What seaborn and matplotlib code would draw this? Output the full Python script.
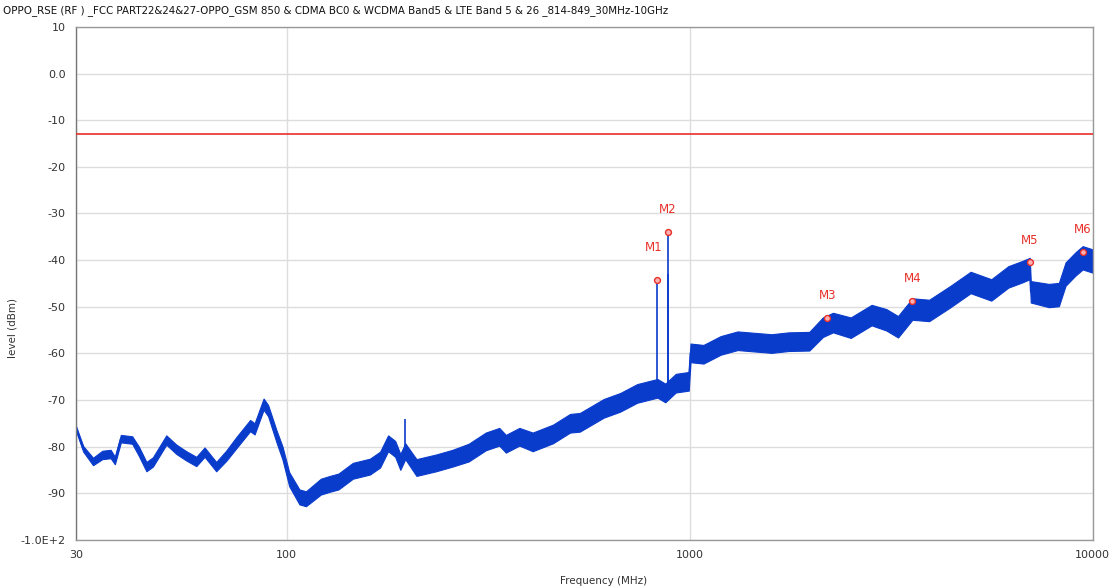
import numpy as np
import pandas as pd
import seaborn as sns
import matplotlib
matplotlib.use("Agg")
import matplotlib.pyplot as plt

# trace envelope (MHz, dBm)
freq_mhz = [30, 31.3, 33.1, 34.9, 36.6, 37.5, 38.8, 41.4, 43.0, 44.9, 46.6, 50.3, 53.3, 56.4,
            59.7, 62.6, 66.9, 70.8, 75.0, 81.2, 83.3, 87.7, 90.0, 94.4, 97.7, 101.5, 107.6,
            111.7, 121.6, 128, 134.5, 146, 161, 170.6, 178.6, 186, 191.5, 197, 210, 235, 258,
            283, 312, 337, 350, 378, 408, 458, 505, 534, 612, 673, 741, 832, 870, 924, 995,
            1005, 1082, 1194, 1315, 1449, 1597, 1760, 1981, 2140, 2268, 2510, 2828, 3075, 3289,
            3569, 3928, 4422, 4978, 5603, 6176, 6680, 6980, 7020, 7781, 8241, 8564, 9068, 9443,
            10000]
level_mid = [-76.0, -80.5, -83.2, -81.8, -81.6, -83.0, -78.3, -78.6, -81.0, -84.3, -83.3, -78.6,
             -80.6, -82.0, -83.2, -81.2, -84.3, -82.0, -79.2, -75.5, -76.2, -70.9, -72.3, -77.8,
             -81.4, -87.0, -90.8, -91.2, -88.6, -88.0, -87.5, -85.2, -84.3, -82.8, -79.3, -80.5,
             -83.3, -81.0, -84.5, -83.5, -82.5, -81.3, -78.9, -77.9, -79.4, -77.9, -79.0, -77.3,
             -75.0, -74.8, -71.8, -70.5, -68.6, -67.5, -68.5, -66.4, -66.0, -59.9, -60.2, -58.3,
             -57.3, -57.6, -57.9, -57.5, -57.4, -54.4, -53.4, -54.5, -51.8, -52.8, -54.3, -50.5,
             -50.8, -47.9, -44.8, -46.4, -43.6, -42.5, -41.8, -46.8, -47.6, -47.4, -43.0, -40.8,
             -39.5, -40.2]
level_spread = [0.5, 0.6, 0.8, 0.9, 0.9, 0.8, 0.8, 0.8, 1.0, 1.0, 1.0, 1.0, 1.0, 1.0, 1.0, 1.0,
                1.0, 1.1, 1.2, 1.2, 1.2, 1.2, 1.2, 1.3, 1.4, 1.5, 1.6, 1.6, 1.7, 1.7, 1.7, 1.7,
                1.7, 1.7, 1.7, 1.7, 1.7, 1.7, 1.8, 1.8, 1.8, 1.9, 1.9, 1.9, 1.9, 1.9, 2.0, 2.0,
                2.0, 2.0, 2.0, 2.0, 2.0, 2.0, 2.0, 2.0, 2.0, 2.0, 2.0, 2.0, 2.0, 2.0, 2.0, 2.0,
                2.0, 2.1, 2.1, 2.2, 2.2, 2.3, 2.3, 2.3, 2.3, 2.3, 2.3, 2.3, 2.3, 2.3, 2.3, 2.3,
                2.5, 2.5, 2.5, 2.5, 2.5, 2.5]

# narrow spurs sticking out of the trace
spur_freq = [197, 829.6, 881.8, 883.5]
spur_level = [-74.0, -44.2, -34.0, -43.0]

# peak markers
marker_names = ["M1", "M2", "M3", "M4", "M5", "M6"]
marker_freq = [829.6, 881.8, 2194, 3569, 6988, 9443]
marker_level = [-44.2, -34.0, -52.4, -48.8, -40.5, -38.2]

limit_dbm = -13

y_ticks = [10, 0, -10, -20, -30, -40, -50, -60, -70, -80, -90, -100]
y_tick_labels = ["10", "0.0", "-10", "-20", "-30", "-40", "-50", "-60", "-70", "-80", "-90", "-1.0E+2"]
x_ticks = [30, 100, 1000, 10000]
x_tick_labels = ["30", "100", "1000", "10000"]

title = ("OPPO_RSE (RF ) _FCC PART22&24&27-OPPO_GSM 850 & CDMA BC0 & WCDMA Band5 & "
         "LTE Band 5 & 26 _814-849_30MHz-10GHz")

sns.set_style("white")
plt.rcParams['font.family'] = ['DejaVu Sans']

BLUE = '#0a3ccc'
RED = '#e8302a'

df = pd.DataFrame({'freq': freq_mhz, 'mid': level_mid, 'spread': level_spread})
df['low'] = df['mid'] - df['spread']
df['high'] = df['mid'] + df['spread']

fig = plt.figure(figsize=(11.15, 5.88), dpi=100)
ax = fig.add_axes([0.068, 0.082, 0.912, 0.872])

ax.fill_between(df['freq'], df['low'], df['high'], color=BLUE, linewidth=0.8, edgecolor=BLUE)
sns.lineplot(data=df, x='freq', y='mid', ax=ax, color=BLUE, linewidth=1.2)

spur_base = np.interp(np.log10(spur_freq), np.log10(df['freq']), df['mid'])
ax.vlines(spur_freq, spur_base, spur_level, color=BLUE, linewidth=1.2)

ax.axhline(limit_dbm, color=RED, linewidth=1.2, zorder=3)

sns.scatterplot(x=marker_freq, y=marker_level, ax=ax, marker='o', s=18,
                facecolor='#ffb0b0', edgecolor=RED, linewidth=1.0, zorder=5)
for name, fx, fy in zip(marker_names, marker_freq, marker_level):
    dx, dy = (-2, 23) if name == "M1" else (0, 16)
    ax.annotate(name, (fx, fy), xytext=(dx, dy), textcoords='offset points',
                ha='center', va='center', color=RED, fontsize=8.5)

ax.set_xscale('log')
ax.set_xlim(30, 10000)
ax.set_ylim(-100, 10)
ax.set_xticks(x_ticks)
ax.set_xticklabels(x_tick_labels)
ax.xaxis.set_minor_locator(matplotlib.ticker.NullLocator())
ax.set_yticks(y_ticks)
ax.set_yticklabels(y_tick_labels)
ax.tick_params(axis='both', labelsize=8, colors='#555555', labelcolor='#333333',
               length=4, width=1, direction='out')
ax.grid(True, color='#dddddd', linewidth=1)
for side in ['left', 'bottom', 'right', 'top']:
    ax.spines[side].set_color('#999999')
    ax.spines[side].set_linewidth(1)
ax.spines['left'].set_color('#777777')

ax.set_xlabel("Frequency (MHz)", fontsize=7.5, color='#333333')
ax.set_ylabel("level (dBm)", fontsize=7.5, color='#333333')
ax.xaxis.set_label_coords(0.519, -0.070)
ax.yaxis.set_label_coords(-0.057, 0.413)
fig.text(0.003, 0.982, title, fontsize=7.4, color='#111111', ha='left', va='center')

fig.savefig("out.png", dpi=100)
